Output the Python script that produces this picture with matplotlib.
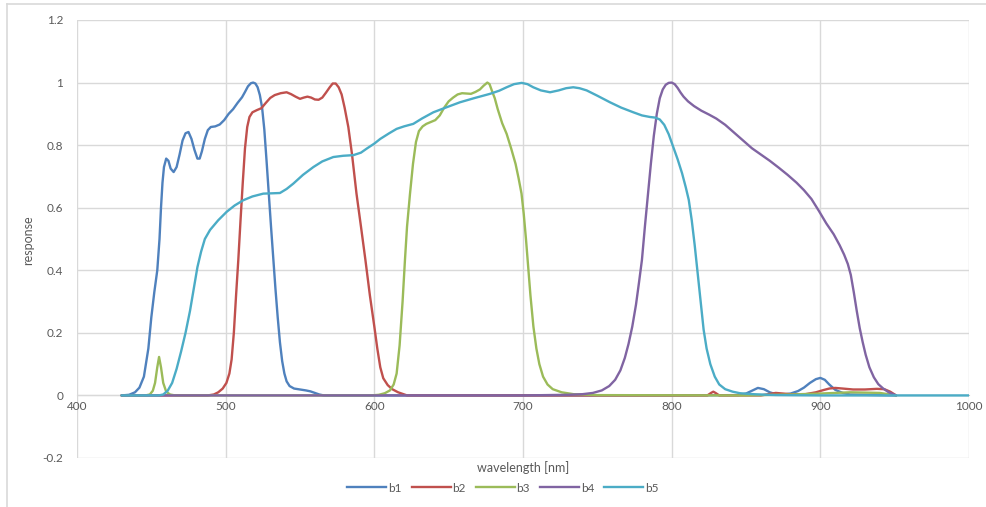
import matplotlib.pyplot as plt
from matplotlib.lines import Line2D

# Spectral response curves
b1_nm = [430, 435, 439, 442, 445, 448, 450, 452, 454, 455.5, 456.5, 457.5, 458.5, 460, 461.5, 463, 465,
         467, 469, 471, 473, 475, 477, 479, 481, 482.5, 484, 486, 488, 490, 493, 496, 499, 502, 505, 508,
         511, 513, 515, 517, 518.5, 520, 521.5, 523, 524.5, 526, 527.5, 529, 530.5, 532, 533.5, 535,
         536.5, 538, 539.5, 541, 543, 546, 550, 554, 557, 560, 563, 566, 570, 600, 700, 800, 845, 850,
         854, 858, 862, 866, 870, 875, 880, 885, 889, 893, 897, 900, 903, 906, 910, 915, 920, 950]
b1_val = [0, 0.002, 0.01, 0.025, 0.06, 0.15, 0.25, 0.33, 0.4, 0.5, 0.6, 0.68, 0.73, 0.757, 0.75, 0.725,
          0.714, 0.73, 0.77, 0.815, 0.838, 0.842, 0.82, 0.785, 0.757, 0.757, 0.78, 0.82, 0.848, 0.858,
          0.86, 0.866, 0.88, 0.9, 0.915, 0.935, 0.953, 0.97, 0.988, 0.998, 1.0, 0.997, 0.985, 0.96, 0.92,
          0.85, 0.75, 0.645, 0.54, 0.44, 0.34, 0.25, 0.17, 0.11, 0.07, 0.045, 0.03, 0.022, 0.019, 0.016,
          0.013, 0.008, 0.003, 0.0, 0.0, 0.0, 0.0, 0.0, 0.001, 0.006, 0.015, 0.024, 0.02, 0.01, 0.004,
          0.003, 0.006, 0.014, 0.025, 0.04, 0.052, 0.056, 0.05, 0.035, 0.018, 0.008, 0.003, 0.0]

b2_nm = [430, 488, 492, 495, 498, 500.5, 502.5, 504, 505.5, 507, 508.5, 510, 511.5, 513, 514.5, 516,
         518, 521, 524, 527, 530, 533, 537, 541, 544, 547, 550, 552.5, 555, 557.5, 560, 562.5, 565,
         567.5, 570, 572, 574, 576, 578, 580, 582.5, 585, 588, 591, 594, 597, 600, 602, 604, 606, 609,
         612, 616, 622, 700, 824, 826.5, 828, 829.5, 832, 860, 865, 870, 875, 880, 890, 897, 902, 906,
         910, 915, 922, 930, 938, 943, 947, 951]
b2_val = [0, 0.0, 0.003, 0.01, 0.022, 0.04, 0.07, 0.115, 0.2, 0.32, 0.433, 0.56, 0.68, 0.79, 0.858,
          0.89, 0.905, 0.912, 0.918, 0.935, 0.951, 0.96, 0.966, 0.969, 0.963, 0.955, 0.948, 0.952,
          0.955, 0.952, 0.946, 0.945, 0.952, 0.968, 0.985, 0.997, 0.997, 0.985, 0.962, 0.92, 0.858,
          0.77, 0.645, 0.54, 0.433, 0.32, 0.22, 0.15, 0.09, 0.055, 0.033, 0.02, 0.01, 0.0, 0.0, 0.0,
          0.008, 0.012, 0.008, 0.0, 0.0, 0.004, 0.008, 0.006, 0.004, 0.004, 0.01, 0.017, 0.022, 0.024,
          0.022, 0.019, 0.019, 0.021, 0.02, 0.012, 0.0]

b3_nm = [430, 446, 449, 451, 452.5, 454, 455.2, 456.5, 458, 460, 462.6, 466, 598, 603, 607, 610.5,
         613, 615, 617, 619, 620.6, 622, 624, 626, 628, 630, 632.5, 635, 638, 641, 644, 647, 650, 653,
         656, 659, 662, 665, 668, 671, 673.5, 676, 677.5, 679, 681, 683, 686, 689, 692, 695, 697,
         699, 700.5, 702, 703.5, 705, 707, 709, 711, 713.5, 716.5, 720, 726, 734, 750, 850, 880, 900,
         920, 940, 951]
b3_val = [0, 0.0, 0.003, 0.015, 0.04, 0.09, 0.123, 0.09, 0.04, 0.012, 0.003, 0.0, 0.0, 0.002, 0.007,
          0.016, 0.035, 0.07, 0.16, 0.3, 0.433, 0.54, 0.645, 0.74, 0.81, 0.845, 0.86, 0.868, 0.874,
          0.88, 0.895, 0.92, 0.94, 0.952, 0.962, 0.966, 0.965, 0.964, 0.97, 0.978, 0.99, 1.0, 0.995,
          0.975, 0.95, 0.915, 0.87, 0.836, 0.79, 0.74, 0.695, 0.645, 0.58, 0.5, 0.41, 0.32, 0.22, 0.15,
          0.1, 0.06, 0.035, 0.02, 0.01, 0.004, 0.001, 0.0, 0.003, 0.006, 0.01, 0.008, 0.0]

b4_nm = [430, 700, 730, 740, 747, 753, 758, 762, 765.5, 768.5, 771, 773.5, 776, 778, 780, 782, 784,
         786, 788, 790, 792, 794, 796, 798, 800, 802, 804, 806, 808, 811, 815, 820, 825, 830, 836, 842,
         848, 854, 860, 866, 872, 878, 884, 889, 894, 899, 904, 909, 913, 916, 918.5, 920.5, 922.5,
         924.5, 926.5, 928.5, 930.5, 933, 936, 939, 942.3, 946, 951]
b4_val = [0, 0.0, 0.002, 0.004, 0.008, 0.016, 0.03, 0.05, 0.08, 0.12, 0.165, 0.22, 0.29, 0.36, 0.433,
          0.54, 0.64, 0.74, 0.83, 0.9, 0.95, 0.978, 0.993, 0.999, 1.0, 0.995, 0.983, 0.968, 0.955,
          0.94, 0.925, 0.91, 0.898, 0.885, 0.865, 0.84, 0.815, 0.79, 0.77, 0.75, 0.728, 0.705, 0.68,
          0.656, 0.628, 0.59, 0.55, 0.515, 0.48, 0.45, 0.42, 0.385, 0.33, 0.27, 0.215, 0.17, 0.13,
          0.09, 0.058, 0.036, 0.022, 0.01, 0.0]

b5_nm = [430, 455, 458, 461, 464, 467, 470, 473, 476, 478.5, 481, 483.5, 486, 489.5, 495, 500.7, 506,
         511.9, 518, 525.3, 531, 536.5, 541, 545.5, 552, 559, 565, 572.4, 579, 585.9, 591, 594.9, 600,
         604, 610, 615, 620, 626.2, 632, 639.7, 648, 657.6, 667, 677.8, 684, 689, 694, 699.1, 703,
         706.9, 712, 718.2, 724, 729, 733.8, 738, 742.8, 750, 758.5, 766, 774.2, 780, 785.4, 789, 792,
         795, 798, 801, 804, 807, 809.5, 811.5, 813.5, 815.5, 817.5, 819.5, 821.5, 823.5, 826, 829,
         832, 836, 841, 846, 855, 870, 900, 950, 1000]
b5_val = [0, 0.0, 0.003, 0.015, 0.04, 0.085, 0.14, 0.2, 0.27, 0.34, 0.41, 0.46, 0.5, 0.529, 0.56,
          0.587, 0.607, 0.624, 0.636, 0.645, 0.646, 0.647, 0.66, 0.677, 0.705, 0.73, 0.748, 0.762,
          0.766, 0.768, 0.776, 0.789, 0.805, 0.82, 0.838, 0.852, 0.86, 0.868, 0.885, 0.905, 0.92,
          0.937, 0.95, 0.964, 0.974, 0.985, 0.995, 0.999, 0.995, 0.985, 0.975, 0.969, 0.975, 0.982,
          0.985, 0.982, 0.975, 0.958, 0.937, 0.92, 0.905, 0.895, 0.89, 0.888, 0.882, 0.865, 0.835,
          0.795, 0.755, 0.71, 0.665, 0.625, 0.56, 0.48, 0.39, 0.3, 0.21, 0.15, 0.1, 0.06, 0.035, 0.02,
          0.012, 0.007, 0.004, 0.001, 0.0, 0.0, 0.0]

series = ['b1', 'b2', 'b3', 'b4', 'b5']
colors = ['#4F81BD', '#C0504D', '#9BBB59', '#8064A2', '#4BACC6']
x_ticks = [400, 500, 600, 700, 800, 900, 1000]
y_ticks = [-0.2, 0, 0.2, 0.4, 0.6, 0.8, 1, 1.2]
y_tick_labels = ['-0.2', '0', '0.2', '0.4', '0.6', '0.8', '1', '1.2']

plt.rcParams['font.family'] = ['Lato', 'DejaVu Sans']
text_color = '#595959'
grid_color = '#d9d9d9'

fig = plt.figure(figsize=(9.86, 5.07), dpi=100)
ax = fig.add_axes([77 / 986, 1 - 458 / 507, (969 - 77) / 986, (458 - 20) / 507])

data = [(b1_nm, b1_val), (b2_nm, b2_val), (b3_nm, b3_val), (b4_nm, b4_val), (b5_nm, b5_val)]
for (nm, val), name, c in zip(data, series, colors):
    ax.plot(nm, val, color=c, linewidth=1.7, label=name,
            solid_joinstyle='round', solid_capstyle='round')

ax.set_xlim(400, 1000)
ax.set_ylim(-0.2, 1.2)
ax.set_xticks(x_ticks)
ax.set_yticks(y_ticks)
ax.set_yticklabels(y_tick_labels)
ax.grid(True, color=grid_color, linewidth=1.0, zorder=0)
ax.set_axisbelow(True)

# Horizontal axis crosses at zero, like Excel does it
for s in ['top', 'right', 'left']:
    ax.spines[s].set_visible(False)
ax.spines['bottom'].set_position(('data', 0))
ax.spines['bottom'].set_color('#bfbfbf')
ax.spines['bottom'].set_zorder(0.5)
ax.tick_params(axis='both', length=0, labelsize=8.5, labelcolor=text_color)
ax.tick_params(axis='y', pad=10)
ax.tick_params(axis='x', pad=4)

# Axis titles
fig.text(523 / 986, 1 - 468 / 507, 'wavelength [nm]', ha='center', va='center',
         fontsize=9, color=text_color)
fig.text(28 / 986, 1 - 240 / 507, 'response', ha='center', va='center', rotation=90,
         fontsize=9, color=text_color)

# Legend under the plot
handles = [Line2D([0], [0], color=c, linewidth=1.7) for c in colors]
fig.legend(handles, series, loc='center', bbox_to_anchor=(503 / 986, 1 - 488 / 507), ncol=5,
           frameon=False, fontsize=8.5, labelcolor=text_color, handlelength=3.3,
           handletextpad=0.15, columnspacing=0.85)

# Thin frame lines of the chart area (top and left only)
fig.add_artist(Line2D([6.5 / 986, 6.5 / 986], [0, 1 - 3.5 / 507], color=grid_color, linewidth=1.2))
fig.add_artist(Line2D([6.5 / 986, 1], [1 - 3.5 / 507, 1 - 3.5 / 507], color=grid_color, linewidth=1.2))

fig.savefig('out.png', dpi=100)
